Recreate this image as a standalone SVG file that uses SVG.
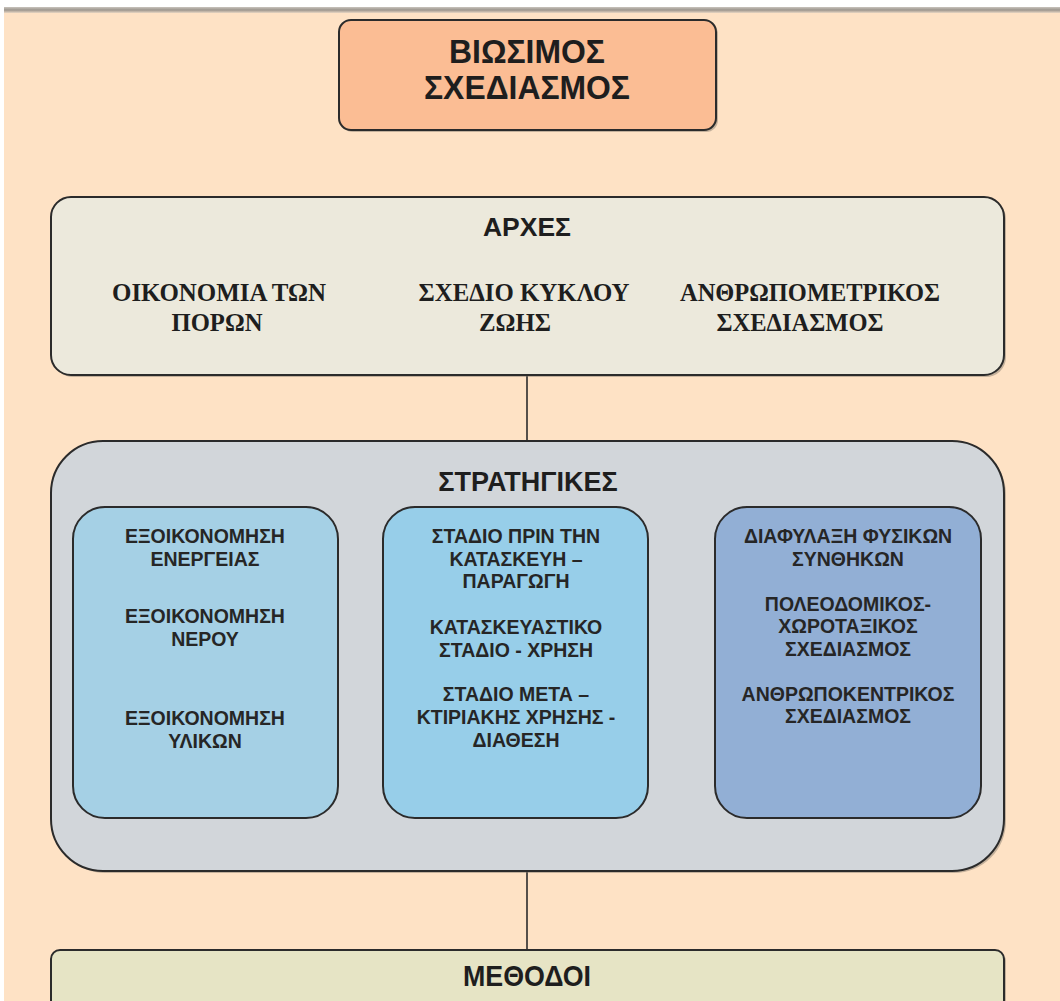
<svg xmlns="http://www.w3.org/2000/svg" width="1060" height="1001" viewBox="0 0 1060 1001">
  <defs>
    <linearGradient id="topEdge" x1="0" y1="0" x2="0" y2="1">
      <stop offset="0" stop-color="#c9c4bd"/>
      <stop offset="0.5" stop-color="#9c958d"/>
      <stop offset="1" stop-color="#e8d6c3"/>
    </linearGradient>
    <style>
      .box { stroke: #2b2b2b; stroke-width: 2; }
      .shadow { fill: #7d7468; opacity: 0.45; }
      .title { font-family: "Liberation Sans Narrow", "Liberation Sans", Arial, sans-serif; font-weight: bold; fill: #1e1e1e; text-anchor: middle; }
      .head { font-family: "Liberation Sans", Arial, sans-serif; font-weight: bold; fill: #1e1e1e; text-anchor: middle; font-size: 27px; }
      .serif { font-family: "Liberation Serif", "Times New Roman", serif; font-weight: bold; fill: #1e1e1e; text-anchor: middle; font-size: 26px; }
      .item { font-family: "Liberation Sans", Arial, sans-serif; font-weight: bold; fill: #262626; text-anchor: middle; font-size: 19.5px; }
      .link { stroke: #2b2b2b; stroke-width: 1.6; fill: none; }
    </style>
  </defs>

  <!-- page background -->
  <rect x="0" y="0" width="1060" height="1001" fill="#ffffff"/>
  <rect x="4" y="8" width="1056" height="993" fill="#fee2c5"/>
  <rect x="4" y="7" width="1056" height="6" fill="url(#topEdge)"/>

  <!-- connectors -->
  <g id="connectors">
    <line class="link" x1="527" y1="375" x2="527" y2="441"/>
    <line class="link" x1="527" y1="871" x2="527" y2="951"/>
  </g>

  <!-- main title -->
  <g id="node-title">
    <rect class="shadow" x="341" y="22" width="377" height="110" rx="12"/>
    <rect class="box" x="339" y="20" width="377" height="110" rx="12" fill="#fbbd94"/>
    <text class="title" x="527" y="63" font-size="33" textLength="156" lengthAdjust="spacingAndGlyphs">ΒΙΩΣΙΜΟΣ</text>
    <text class="title" x="527" y="99" font-size="33" textLength="206" lengthAdjust="spacingAndGlyphs">ΣΧΕΔΙΑΣΜΟΣ</text>
  </g>

  <!-- principles -->
  <g id="node-principles">
    <rect class="shadow" x="53" y="199" width="953" height="178" rx="20"/>
    <rect class="box" x="51" y="197" width="953" height="178" rx="20" fill="#ece9dc"/>
    <text class="title" x="527" y="236" font-size="26" textLength="88" lengthAdjust="spacingAndGlyphs">ΑΡΧΕΣ</text>
    <text class="serif" x="219" y="301" textLength="214" lengthAdjust="spacingAndGlyphs">ΟΙΚΟΝΟΜΙΑ ΤΩΝ</text>
    <text class="serif" x="217" y="331" textLength="91" lengthAdjust="spacingAndGlyphs">ΠΟΡΩΝ</text>
    <text class="serif" x="524" y="301" textLength="211" lengthAdjust="spacingAndGlyphs">ΣΧΕΔΙΟ ΚΥΚΛΟΥ</text>
    <text class="serif" x="515" y="331" textLength="72" lengthAdjust="spacingAndGlyphs">ΖΩΗΣ</text>
    <text class="serif" x="810" y="301" textLength="260" lengthAdjust="spacingAndGlyphs">ΑΝΘΡΩΠΟΜΕΤΡΙΚΟΣ</text>
    <text class="serif" x="800" y="331" textLength="167" lengthAdjust="spacingAndGlyphs">ΣΧΕΔΙΑΣΜΟΣ</text>
  </g>

  <!-- strategies -->
  <g id="node-strategies">
    <rect class="shadow" x="53" y="443" width="953" height="430" rx="52"/>
    <rect class="box" x="51" y="441" width="953" height="430" rx="52" fill="#d2d6da"/>
    <text class="head" x="528" y="491">ΣΤΡΑΤΗΓΙΚΕΣ</text>
  </g>

  <g id="node-savings">
    <rect class="box" x="73" y="507" width="265" height="311" rx="32" fill="#a5d0e5"/>
    <text class="item" x="205" y="543">ΕΞΟΙΚΟΝΟΜΗΣΗ</text>
    <text class="item" x="205" y="566">ΕΝΕΡΓΕΙΑΣ</text>
    <text class="item" x="205" y="623">ΕΞΟΙΚΟΝΟΜΗΣΗ</text>
    <text class="item" x="205" y="646">ΝΕΡΟΥ</text>
    <text class="item" x="205" y="725">ΕΞΟΙΚΟΝΟΜΗΣΗ</text>
    <text class="item" x="205" y="748">ΥΛΙΚΩΝ</text>
  </g>

  <g id="node-lifecycle">
    <rect class="box" x="383" y="507" width="265" height="311" rx="32" fill="#97cee9"/>
    <text class="item" x="516" y="543">ΣΤΑΔΙΟ ΠΡΙΝ ΤΗΝ</text>
    <text class="item" x="516" y="566">ΚΑΤΑΣΚΕΥΗ –</text>
    <text class="item" x="516" y="588">ΠΑΡΑΓΩΓΗ</text>
    <text class="item" x="516" y="634">ΚΑΤΑΣΚΕΥΑΣΤΙΚΟ</text>
    <text class="item" x="516" y="657">ΣΤΑΔΙΟ - ΧΡΗΣΗ</text>
    <text class="item" x="516" y="701">ΣΤΑΔΙΟ ΜΕΤΑ –</text>
    <text class="item" x="516" y="724">ΚΤΙΡΙΑΚΗΣ ΧΡΗΣΗΣ -</text>
    <text class="item" x="516" y="747">ΔΙΑΘΕΣΗ</text>
  </g>

  <g id="node-human">
    <rect class="box" x="715" y="507" width="266" height="311" rx="32" fill="#92afd5"/>
    <text class="item" x="848" y="543">ΔΙΑΦΥΛΑΞΗ ΦΥΣΙΚΩΝ</text>
    <text class="item" x="848" y="566">ΣΥΝΘΗΚΩΝ</text>
    <text class="item" x="848" y="611">ΠΟΛΕΟΔΟΜΙΚΟΣ-</text>
    <text class="item" x="848" y="633">ΧΩΡΟΤΑΞΙΚΟΣ</text>
    <text class="item" x="848" y="656">ΣΧΕΔΙΑΣΜΟΣ</text>
    <text class="item" x="848" y="701">ΑΝΘΡΩΠΟΚΕΝΤΡΙΚΟΣ</text>
    <text class="item" x="848" y="723">ΣΧΕΔΙΑΣΜΟΣ</text>
  </g>

  <!-- methods -->
  <g id="node-methods">
    <rect class="shadow" x="53" y="952" width="953" height="70" rx="9"/>
    <rect class="box" x="51" y="950" width="953" height="70" rx="9" fill="#e6e4c5"/>
    <text class="title" x="527" y="986" font-size="30" textLength="128" lengthAdjust="spacingAndGlyphs">ΜΕΘΟΔΟΙ</text>
  </g>
</svg>
